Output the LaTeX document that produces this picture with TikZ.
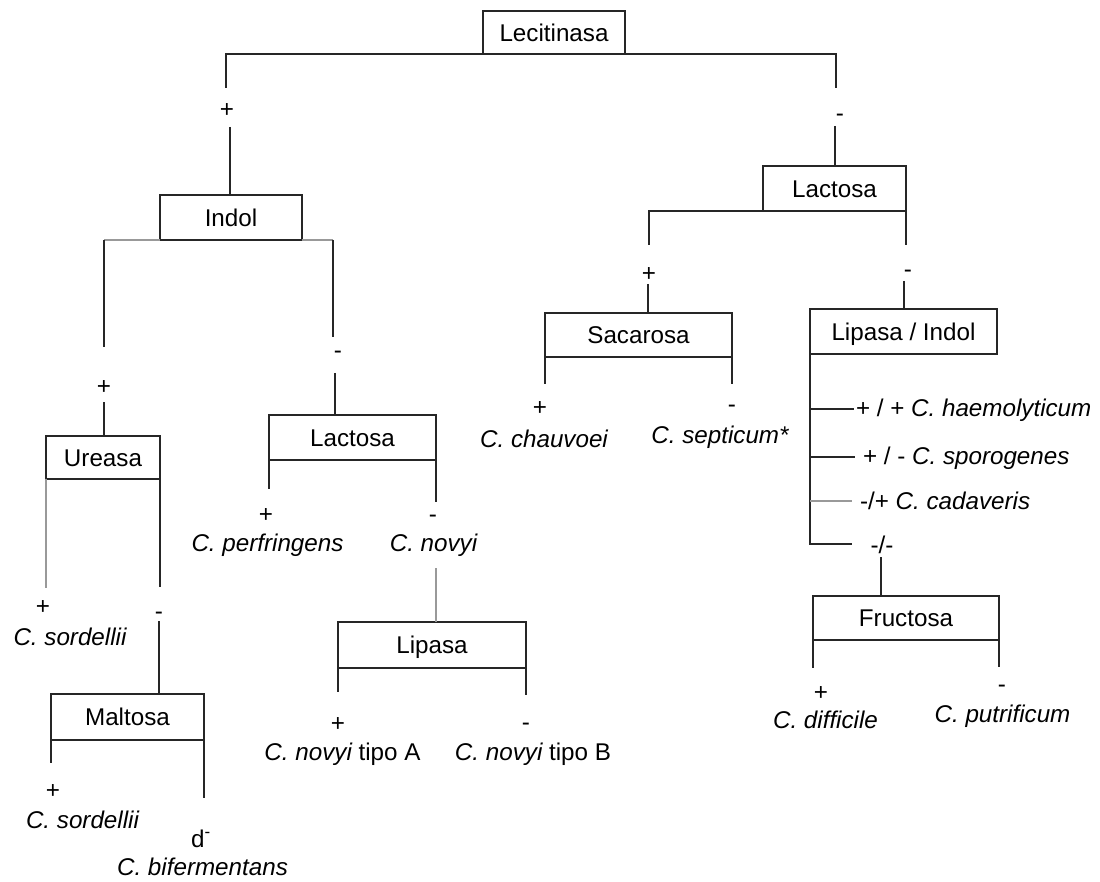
\documentclass[tikz,border=0pt]{standalone}
\usepackage{fontspec}
\setmainfont{Liberation Sans}
\begin{document}
\begin{tikzpicture}[x=1pt,y=-1pt,
  every node/.style={inner sep=0pt, outer sep=0pt, text=black, font=\fontsize{24.2pt}{29pt}\selectfont},
  box/.style={draw=black!85, line width=1.4pt, text height=17.4pt, text depth=0pt, anchor=north west},
  ln/.style={draw=black!85, line width=1.4pt},
  gln/.style={draw=black!40, line width=1.4pt},
  lbl/.style={anchor=base},
  lblw/.style={anchor=base west}]
\useasboundingbox (0,0) rectangle (1100,882);

% boxes
\node[box, minimum width=142pt, minimum height=43pt] (lec) at (483,11) {Lecitinasa};
\node[box, minimum width=142pt, minimum height=45pt] (indol) at (160,195) {Indol};
\node[box, minimum width=143pt, minimum height=45pt] (lac1) at (763,166) {Lactosa};
\node[box, minimum width=114pt, minimum height=43pt] (ureasa) at (46,436) {Ureasa};
\node[box, minimum width=167pt, minimum height=45pt] (lac2) at (269,415) {Lactosa};
\node[box, minimum width=153pt, minimum height=46pt] (malt) at (51,694) {Maltosa};
\node[box, minimum width=188pt, minimum height=46pt] (lip) at (338,622) {Lipasa};
\node[box, minimum width=187pt, minimum height=44pt] (sac) at (545,313) {Sacarosa};
\node[box, minimum width=187pt, minimum height=45pt] (lipind) at (810,309) {Lipasa / Indol};
\node[box, minimum width=186pt, minimum height=44pt] (fru) at (813,596) {Fructosa};

% sign labels
\node[lbl] (s1) at (227,117.6) {+};
\node[lbl] (s2) at (840,121.5) {-};
\node[lbl] (s3) at (104,394.6) {+};
\node[lbl] (s4) at (338,358.5) {-};
\node[lbl] (s5) at (649,281.6) {+};
\node[lbl] (s6) at (908,277.5) {-};
\node[lbl] (s7) at (43,614.6) {+};
\node[lbl] (s8) at (159,619.5) {-};
\node[lbl] (s9) at (53,798.6) {+};
\node[lbl] (s10) at (266,522.6) {+};
\node[lbl] (s11) at (433,522.5) {-};
\node[lbl] (s12) at (338,731.6) {+};
\node[lbl] (s13) at (526,730.5) {-};
\node[lbl] (s14) at (540,415.6) {+};
\node[lbl] (s15) at (732,412.5) {-};
\node[lbl] (s16) at (821,700.6) {+};
\node[lbl] (s17) at (1002,692.5) {-};
\node[lbl] (dm) at (201,847) {d\textsuperscript{-}};

% species labels
\node[lbl] (t1) at (70,645) {\itshape C. sordellii};
\node[lbl] (t2) at (82.5,828) {\itshape C. sordellii};
\node[lbl] (t3) at (202.5,875) {\itshape C. bifermentans};
\node[lbl] (t4) at (267.5,551) {\itshape C. perfringens};
\node[lbl] (t5) at (433.5,551) {\itshape C. novyi};
\node[lbl] (t6) at (342.5,760) {{\itshape C. novyi} tipo A};
\node[lbl] (t7) at (533,760) {{\itshape C. novyi} tipo B};
\node[lbl] (t8) at (544,447) {\itshape C. chauvoei};
\node[lbl] (t9) at (720,443) {\itshape C. septicum*};
\node[lbl] (t10) at (825.5,728) {\itshape C. difficile};
\node[lbl] (t11) at (1002.5,722) {\itshape C. putrificum};
\node[lblw] (b1) at (856,416) {+ / + {\itshape C. haemolyticum}};
\node[lblw] (b2) at (863,464) {+ / - {\itshape C. sporogenes}};
\node[lblw] (b3) at (860,509) {-/+ {\itshape C. cadaveris}};
\node[lbl] (b4) at (882,553) {-/-};

% connector end points
\coordinate (l1a) at (226,88);
\coordinate (l1b) at (836,88);
\coordinate (i1) at (230,127);
\coordinate (r1) at (835,126);
\coordinate (iL) at (104,347);
\coordinate (iR) at (333,337);
\coordinate (iL2) at (104,402);
\coordinate (iR2) at (335,373);
\coordinate (aL) at (649,245);
\coordinate (aR) at (906,245);
\coordinate (aL2) at (648,284);
\coordinate (aR2) at (904,281);
\coordinate (uL) at (46,588);
\coordinate (uR) at (160,587);
\coordinate (uR2) at (159,621);
\coordinate (mL) at (51,763);
\coordinate (mR) at (204,798);
\coordinate (bL) at (269,489);
\coordinate (bR) at (436,502);
\coordinate (bR2) at (436,568);
\coordinate (pL) at (338,692);
\coordinate (pR) at (526,695);
\coordinate (sL) at (545,384);
\coordinate (sR) at (732,384);
\coordinate (k1) at (854,409);
\coordinate (k2) at (855,457);
\coordinate (k3) at (852,501);
\coordinate (k4) at (852,544);
\coordinate (fz) at (881,557);
\coordinate (fL) at (813,668);
\coordinate (fR) at (999,667);

% Lecitinasa
\draw[ln] (l1a) |- (lec.south) -| (l1b);
\draw[ln] (i1) -- (i1 |- indol.north);
\draw[ln] (r1) -- (r1 |- lac1.north);
% Indol
\draw[gln] (iL |- indol.south) -- (indol.south west);
\draw[gln] (indol.south east) -- (iR |- indol.south);
\draw[ln] (iL |- indol.south) -- (iL);
\draw[ln] (iR |- indol.south) -- (iR);
\draw[ln] (iL2) -- (iL2 |- ureasa.north);
\draw[ln] (iR2) -- (iR2 |- lac2.north);
% Lactosa (right)
\draw[ln] (aL) |- (lac1.south west);
\draw[ln] (lac1.south east) -- (aR);
\draw[ln] (aL2) -- (aL2 |- sac.north);
\draw[ln] (aR2) -- (aR2 |- lipind.north);
% Ureasa
\draw[gln] (ureasa.south west) -- (uL);
\draw[ln] (ureasa.south east) -- (uR);
\draw[ln] (uR2) -- (uR2 |- malt.north);
% Maltosa
\draw[ln] (malt.south west) -- (mL);
\draw[ln] (malt.south east) -- (mR);
% Lactosa (left)
\draw[ln] (lac2.south west) -- (bL);
\draw[ln] (lac2.south east) -- (bR);
\draw[gln] (bR2) -- (bR2 |- lip.north);
% Lipasa
\draw[ln] (lip.south west) -- (pL);
\draw[ln] (lip.south east) -- (pR);
% Sacarosa
\draw[ln] (sac.south west) -- (sL);
\draw[ln] (sac.south east) -- (sR);
% Lipasa / Indol
\draw[ln] (lipind.south west) |- (k4);
\draw[ln] (k1 -| lipind.south west) -- (k1);
\draw[ln] (k2 -| lipind.south west) -- (k2);
\draw[gln] (k3 -| lipind.south west) -- (k3);
\draw[ln] (fz) -- (fz |- fru.north);
% Fructosa
\draw[ln] (fru.south west) -- (fL);
\draw[ln] (fru.south east) -- (fR);
\end{tikzpicture}
\end{document}
